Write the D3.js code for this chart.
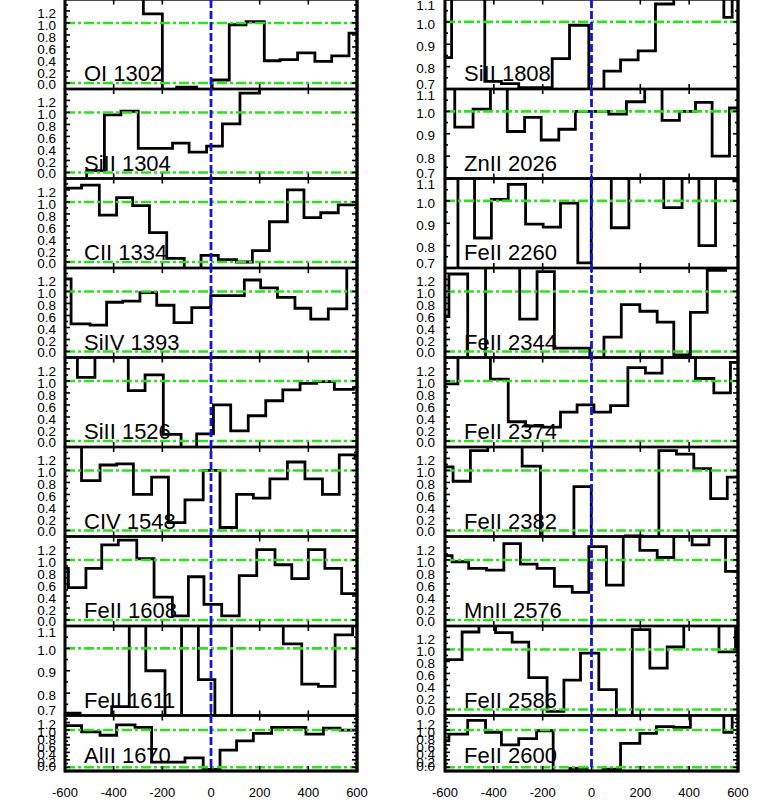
<!DOCTYPE html>
<html>
<head>
<meta charset="utf-8">
<script src="https://cdn.jsdelivr.net/npm/d3@7"></script>
<style>
  body { margin: 0; background: #fff; }
  svg { display: block; }
  text { font-family: "Liberation Sans", Arial, Helvetica, sans-serif; fill: #000; }
</style>
</head>
<body>
<div id="chart"></div>
<script>
// etiquetas de cada panel (columna izquierda y derecha)
const leftLabels = ["OI 1302", "SiII 1304", "CII 1334", "SiIV 1393", "SiII 1526", "CIV 1548", "FeII 1608", "FeII 1611", "AlII 1670"];
const rightLabels = ["SiII 1808", "ZnII 2026", "FeII 2260", "FeII 2344", "FeII 2374", "FeII 2382", "MnII 2576", "FeII 2586", "FeII 2600"];
// paneles con escala estrecha (0.7 - 1.1)
const narrowPanels = ["FeII 1611", "SiII 1808", "ZnII 2026", "FeII 2260"];

const xTicks = [-600, -400, -200, 0, 200, 400, 600];
const fluxTicks = [0.0, 0.2, 0.4, 0.6, 0.8, 1.0, 1.2];
const narrowTicks = [0.7, 0.8, 0.9, 1.0, 1.1];

// bordes de los bins (km/s) y flujo normalizado
const v_OI1302 = [-650, -278, -200, -141, -59, 5, 75, 144, 219, 284, 356, 427, 496, 567, 650];
const f_OI1302 = [1.6, 1.15, -0.3, -0.07, -0.3, 0.05, 0.97, 1.02, 0.37, 0.39, 0.5, 0.36, 0.45, 0.83];

const v_SiII1304 = [-650, -511, -438, -370, -299, -158, -90, -18, 47, 119, 199, 650];
const f_SiII1304 = [-0.3, 0.03, 0.96, 1.02, 0.4, 0.49, 0.34, 0.44, 0.81, 1.32, 1.6];

const v_CII1334 = [-650, -532, -459, -388, -322, -253, -182, -110, -41, 30, 105, 170, 240, 314, 382, 451, 523, 650];
const f_CII1334 = [1.23, 1.28, 0.78, 1.07, 0.94, 0.49, 0.06, -0.3, 0.11, 0.04, 0.0, 0.19, 0.67, 1.2, 0.74, 0.82, 0.95];

const v_SiIV1393 = [-650, -575, -497, -429, -363, -292, -223, -152, -79, -1, 137, 204, 273, 345, 410, 482, 558, 650];
const f_SiIV1393 = [1.21, 0.46, 0.44, 0.82, 0.84, 0.98, 0.77, 0.48, 0.73, 0.93, 1.19, 1.06, 0.9, 0.72, 0.54, 0.71, 1.6];

const v_SiII1526 = [-650, -549, -477, -340, -271, -196, -123, -59, 10, 81, 153, 225, 295, 366, 434, 507, 585, 650];
const f_SiII1526 = [1.6, 1.06, 1.6, 0.84, 1.1, 0.11, -0.3, 0.12, 0.6, 0.17, 0.42, 0.67, 0.85, 0.96, 0.99, 0.86, 0.89];

const v_CIV1548 = [-650, -532, -456, -388, -319, -244, -175, -107, -32, 37, 105, 174, 242, 314, 386, 458, 527, 592, 650];
const f_CIV1548 = [1.6, 0.83, 1.09, 1.11, 0.6, 0.89, 0.13, 0.51, 1.0, 0.05, 0.6, 0.54, 0.86, 1.14, 0.86, 0.6, 1.26, 1.2];

const v_FeII1608 = [-650, -586, -514, -449, -381, -305, -234, -159, -93, -29, 44, 116, 188, 263, 332, 400, 468, 537, 650];
const f_FeII1608 = [0.86, 0.54, 0.86, 1.25, 1.33, 1.02, 0.38, 0.07, 0.72, 0.26, 0.07, 0.74, 1.17, 0.92, 0.69, 1.17, 0.86, 0.44];

const v_FeII1611 = [-650, -538, -408, -336, -268, -189, -121, -52, 16, 85, 297, 373, 441, 510, 582, 650];
const f_FeII1611 = [0.71, 0.6, 0.74, 1.2, 0.9, 0.6, 1.2, 0.86, 0.6, 1.2, 1.02, 0.84, 0.83, 1.06, 1.2];

const v_AlII1670 = [-650, -532, -456, -388, -312, -244, -107, -32, 37, 105, 174, 249, 390, 462, 530, 650];
const f_AlII1670 = [1.12, 0.95, 0.86, 1.14, 1.07, 0.14, 0.25, -0.06, 0.46, 0.71, 0.91, 1.07, 0.89, 1.05, 1.0];

const v_SiII1808 = [-650, -573, -437, -369, -298, -227, -161, -90, -11, 51, 119, 191, 262, 337, 542, 576, 650];
const f_SiII1808 = [0.84, 1.2, 0.734, 0.724, 0.706, 0.706, 0.836, 0.985, 0.6, 0.78, 0.83, 0.87, 1.08, 1.2, 1.02, 1.2];

const v_ZnII2026 = [-650, -560, -485, -414, -345, -274, -206, -134, -66, 71, 143, 218, 289, 360, 426, 494, 565, 650];
const f_ZnII2026 = [1.2, 0.93, 1.01, 1.2, 0.91, 0.973, 0.872, 0.92, 1.0, 0.988, 1.043, 1.2, 0.96, 1.0, 1.04, 0.8, 1.015];

const v_FeII2260 = [-650, -547, -479, -410, -341, -270, -198, -127, -56, -1, 81, 153, 296, 371, 440, 508, 583, 650];
const f_FeII2260 = [0.6, 1.2, 0.834, 1.007, 1.074, 0.896, 0.883, 0.99, 0.723, 1.2, 0.88, 1.2, 0.97, 1.2, 0.8, 1.2, 1.09];

const v_FeII2344 = [-650, -584, -507, -434, -294, -223, -152, -7, 51, 122, 198, 269, 337, 405, 474, 549, 650];
const f_FeII2344 = [0.58, 1.29, -0.3, 1.6, 0.54, 1.33, 0.056, -0.3, 0.24, 0.78, 0.67, 0.49, -0.056, 0.65, 1.35, 1.6];

const v_FeII2374 = [-650, -547, -414, -341, -270, -199, -127, -59, 10, 78, 149, 221, 289, 426, 501, 569, 650];
const f_FeII2374 = [0.95, 1.6, 1.03, 0.32, 0.25, 0.23, 0.48, 0.6, 0.48, 0.59, 1.22, 1.13, 1.6, 1.04, 0.8, 1.31];

const v_FeII2382 = [-650, -567, -496, -425, -284, -209, -72, -1, 139, 208, 276, 348, 419, 488, 556, 650];
const f_FeII2382 = [1.06, 0.82, 1.33, 1.6, 1.07, -0.3, 0.73, -0.3, -0.09, -0.3, 1.33, 1.27, 1.03, 0.53, 0.89];

const v_MnII2576 = [-650, -571, -503, -430, -359, -291, -223, -152, -79, -11, 61, 130, 198, 269, 337, 412, 481, 549, 650];
const f_MnII2576 = [1.07, 0.97, 0.86, 0.83, 1.27, 0.93, 0.86, 0.56, 0.46, 1.22, 0.58, 1.6, 1.16, 1.04, 1.6, 1.25, 1.6, 0.81];

const v_FeII2586 = [-650, -530, -461, -393, -325, -257, -182, -113, -45, 30, 102, 167, 239, 310, 378, 522, 590, 650];
const f_FeII2586 = [0.83, 1.29, 1.6, 1.28, 1.12, 0.53, -0.03, 0.49, 0.94, 0.33, -0.3, 1.33, 0.69, 1.04, 1.6, 0.96, 1.6];

const v_FeII2600 = [-650, -584, -507, -434, -369, -298, -225, -157, -89, -18, 48, 119, 198, 266, 337, 405, 542, 576, 650];
const f_FeII2600 = [0.71, 0.89, 1.26, 0.94, 0.6, 0.77, 0.98, -0.3, -0.03, -0.3, -0.05, 0.64, 0.91, 1.09, 1.07, 1.6, 0.94, 1.6];

const leftSeries = [
  [v_OI1302, f_OI1302], [v_SiII1304, f_SiII1304], [v_CII1334, f_CII1334],
  [v_SiIV1393, f_SiIV1393], [v_SiII1526, f_SiII1526], [v_CIV1548, f_CIV1548],
  [v_FeII1608, f_FeII1608], [v_FeII1611, f_FeII1611], [v_AlII1670, f_AlII1670],
];
const rightSeries = [
  [v_SiII1808, f_SiII1808], [v_ZnII2026, f_ZnII2026], [v_FeII2260, f_FeII2260],
  [v_FeII2344, f_FeII2344], [v_FeII2374, f_FeII2374], [v_FeII2382, f_FeII2382],
  [v_MnII2576, f_MnII2576], [v_FeII2586, f_FeII2586], [v_FeII2600, f_FeII2600],
];

// dimensiones
const totalWidth = 761;
const totalHeight = 807;
const panelStep = 89.5;
const firstTop = -0.5;
const lastBottom = 771;
const green = "#30e020";
const blue = "#1414d8";

const columns = [
  { x0: 65, x1: 357, labelEnd: 56, labels: leftLabels, series: leftSeries },
  { x0: 445, x1: 738, labelEnd: 435, labels: rightLabels, series: rightSeries },
];

const svg = d3.select("#chart")
  .append("svg")
  .attr("width", totalWidth)
  .attr("height", totalHeight);

const defs = svg.append("defs");

columns.forEach((col, c) => {
  const x = d3.scaleLinear().domain([-600, 600]).range([col.x0, col.x1]);
  const g = svg.append("g");

  col.labels.forEach((name, i) => {
    const top = firstTop + i * panelStep;
    const bottom = i < col.labels.length - 1 ? top + panelStep : lastBottom;
    const narrow = narrowPanels.includes(name);
    const y = d3.scaleLinear()
      .domain(narrow ? [0.7, 1.1] : [-0.1, 1.39])
      .range([bottom, top]);

    const clipId = `clip-${c}-${i}`;
    defs.append("clipPath").attr("id", clipId)
      .append("rect")
      .attr("x", col.x0).attr("y", top)
      .attr("width", col.x1 - col.x0).attr("height", bottom - top);

    const panel = g.append("g").attr("clip-path", `url(#${clipId})`);

    // histograma (escalones)
    const [vel, flux] = col.series[i];
    const pts = flux.map((f, k) => [vel[k], f]);
    pts.push([vel[vel.length - 1], flux[flux.length - 1]]);
    const line = d3.line()
      .x((d) => x(d[0]))
      .y((d) => y(d[1]))
      .curve(d3.curveStepAfter);
    panel.append("path")
      .attr("d", line(pts))
      .attr("fill", "none")
      .attr("stroke", "#000")
      .attr("stroke-width", 2.8);

    // lineas de continuo y cero
    const levels = narrow ? [1.0] : [0.0, 1.0];
    panel.selectAll(".lvl")
      .data(levels)
      .join("line")
      .attr("x1", col.x0).attr("x2", col.x1)
      .attr("y1", (d) => y(d)).attr("y2", (d) => y(d))
      .attr("stroke", green)
      .attr("stroke-width", 2.6)
      .attr("stroke-dasharray", "10,3,3,3");

    // marco
    g.append("rect")
      .attr("x", col.x0).attr("y", top)
      .attr("width", col.x1 - col.x0).attr("height", bottom - top)
      .attr("fill", "none")
      .attr("stroke", "#000")
      .attr("stroke-width", 2.4);

    // ticks en y
    const major = narrow ? narrowTicks : fluxTicks;
    const minorStep = narrow ? 0.05 : 0.1;
    const minor = d3.range(y.domain()[0], y.domain()[1] + 1e-6, minorStep)
      .map((d) => Math.round(d / minorStep) * minorStep)
      .filter((d) => d > y.domain()[0] - 1e-6 && d < y.domain()[1] + 1e-6);
    minor.forEach((d) => {
      const isMajor = major.some((m) => Math.abs(m - d) < 1e-6);
      const len = isMajor ? 5 : 3;
      g.append("line")
        .attr("x1", col.x0).attr("x2", col.x0 + len)
        .attr("y1", y(d)).attr("y2", y(d))
        .attr("stroke", "#000").attr("stroke-width", 1.6);
      g.append("line")
        .attr("x1", col.x1).attr("x2", col.x1 - len)
        .attr("y1", y(d)).attr("y2", y(d))
        .attr("stroke", "#000").attr("stroke-width", 1.6);
    });

    // etiquetas en y
    major.forEach((d) => {
      const ty = Math.min(Math.max(y(d) + 2, top + 6), bottom - 5);
      g.append("text")
        .attr("x", col.labelEnd)
        .attr("y", ty)
        .attr("dy", "0.35em")
        .attr("text-anchor", "end")
        .attr("font-size", 13.5)
        .text(d.toFixed(1));
    });

    // ticks en x (arriba y abajo)
    xTicks.slice(1, -1).forEach((t) => {
      g.append("line")
        .attr("x1", x(t)).attr("x2", x(t))
        .attr("y1", bottom).attr("y2", bottom - 5)
        .attr("stroke", "#000").attr("stroke-width", 1.6);
      g.append("line")
        .attr("x1", x(t)).attr("x2", x(t))
        .attr("y1", top).attr("y2", top + 5)
        .attr("stroke", "#000").attr("stroke-width", 1.6);
    });

    // nombre de la linea
    g.append("text")
      .attr("x", col.x0 + 19)
      .attr("y", bottom - 8)
      .attr("font-size", 22)
      .text(name);
  });

  // linea vertical en v = 0
  g.append("line")
    .attr("x1", x(0)).attr("x2", x(0))
    .attr("y1", 0).attr("y2", lastBottom)
    .attr("stroke", blue)
    .attr("stroke-width", 2.8)
    .attr("stroke-dasharray", "8,3");

  // bordes exteriores mas gruesos
  g.append("line")
    .attr("x1", col.x1).attr("x2", col.x1)
    .attr("y1", 0).attr("y2", lastBottom + 1.5)
    .attr("stroke", "#000").attr("stroke-width", 3.2);
  g.append("line")
    .attr("x1", col.x0).attr("x2", col.x0)
    .attr("y1", 0).attr("y2", lastBottom + 1.5)
    .attr("stroke", "#000").attr("stroke-width", 2.8);
  g.append("line")
    .attr("x1", col.x0).attr("x2", col.x1)
    .attr("y1", lastBottom).attr("y2", lastBottom)
    .attr("stroke", "#000").attr("stroke-width", 3.2);

  // etiquetas del eje x
  g.selectAll(".xlab")
    .data(xTicks)
    .join("text")
    .attr("x", (d) => x(d))
    .attr("y", 797)
    .attr("text-anchor", "middle")
    .attr("font-size", 13)
    .text((d) => d);
});
</script>
</body>
</html>
